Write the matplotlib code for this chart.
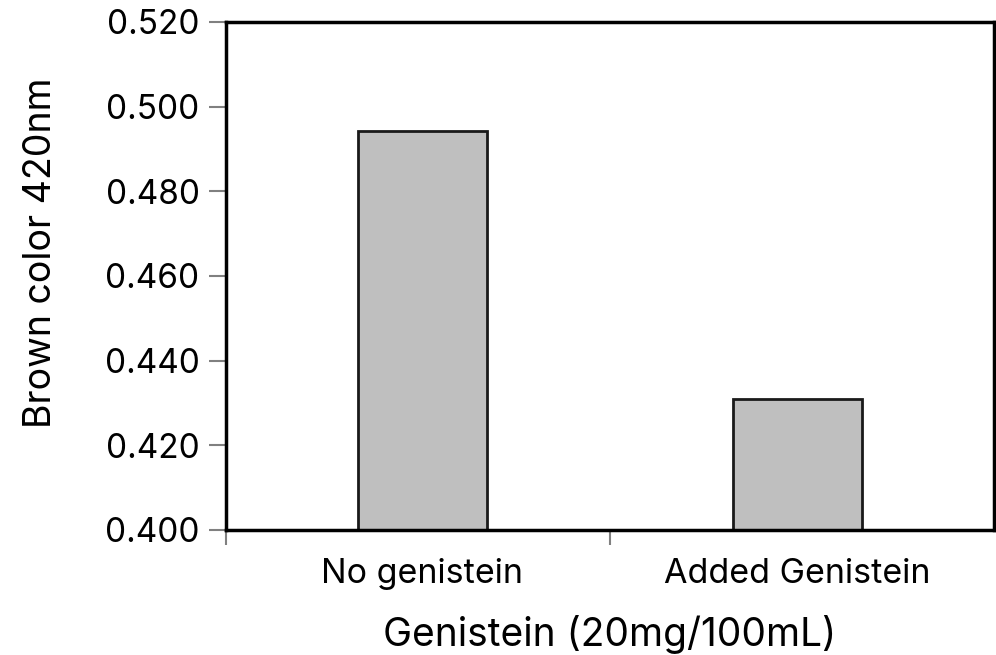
import matplotlib
matplotlib.use('Agg')
import matplotlib.pyplot as plt
from matplotlib.ticker import FixedLocator

categories = ['No genistein', 'Added Genistein']
values = [0.4943, 0.4309]
yticks = [0.400, 0.420, 0.440, 0.460, 0.480, 0.500, 0.520]

plt.rcParams['font.family'] = ['Inter', 'DejaVu Sans']

fig = plt.figure(figsize=(9.96, 6.55), dpi=100)
ax = fig.add_axes([226 / 996, 1 - 530 / 655, 768 / 996, 508 / 655])

x = list(range(len(categories)))
ax.bar(x, values, width=0.344, color='#bfbfbf', edgecolor='#1a1a1a', linewidth=2, zorder=2)

ax.set_xlim(-0.523, len(categories) - 0.477)
ax.set_ylim(0.400, 0.520)
ax.set_yticks(yticks)
ax.set_yticklabels(['%.3f' % v for v in yticks])
ax.set_xticks(x)
ax.set_xticklabels(categories)
ax.xaxis.set_minor_locator(FixedLocator([-0.523, 0.5]))

for s in ax.spines.values():
    s.set_linewidth(2.5)
    s.set_color('black')

ax.tick_params(axis='y', which='major', direction='out', length=12, width=1.5,
               color='#808080', labelsize=24, pad=7)
ax.tick_params(axis='x', which='major', length=0, labelsize=24.5, pad=20)
ax.tick_params(axis='x', which='minor', direction='out', length=11, width=1.5, color='#808080')

ax.set_xlabel('Genistein (20mg/100mL)', fontsize=28, labelpad=18)
ax.set_ylabel('Brown color 420nm', fontsize=27)
ax.yaxis.set_label_coords(-0.218, 0.545)

fig.savefig('out.png', dpi=100)
